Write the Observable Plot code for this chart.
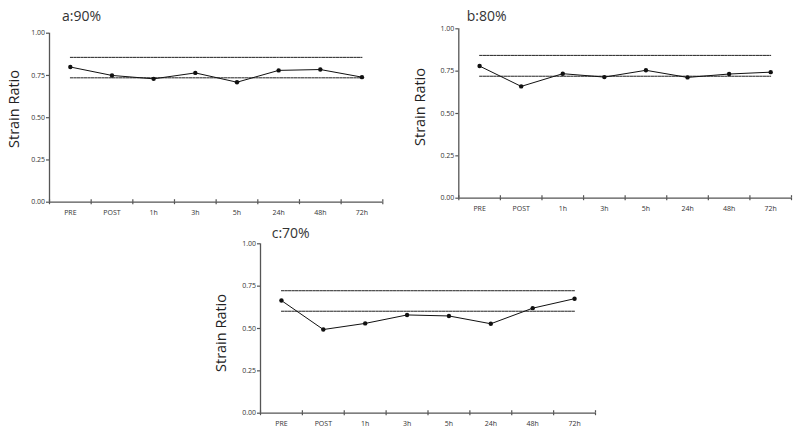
<!DOCTYPE html>
<html><head><meta charset="utf-8">
<script src="https://cdn.jsdelivr.net/npm/d3@7"></script>
<script src="https://cdn.jsdelivr.net/npm/@observablehq/plot@0.6"></script>
<style>
body{margin:0;background:#fff;}
#c{position:relative;width:800px;height:432px;font-family:"Open Sans",sans-serif;overflow:hidden;}
.panel{position:absolute;}
.title{position:absolute;font-size:14px;line-height:14px;color:#333;white-space:nowrap;}
.ylab{position:absolute;font-size:14.5px;line-height:15px;color:#222;white-space:nowrap;transform:translate(-50%,-50%) rotate(-90deg);}
</style></head><body><div id="c"></div><script>
const categories = ["PRE","POST","1h","3h","5h","24h","48h","72h"];
const titles = ["a:90%","b:80%","c:70%"];
const yLabel = "Strain Ratio";
const valuesA = [0.80,0.75,0.73,0.765,0.71,0.78,0.785,0.74];
const valuesB = [0.78,0.66,0.735,0.715,0.755,0.713,0.733,0.744];
const valuesC = [0.665,0.494,0.53,0.58,0.574,0.528,0.62,0.676];
const upperLimits = [0.857,0.843,0.723];
const lowerLimits = [0.736,0.72,0.602];
const yTicks = [0,0.25,0.5,0.75,1];

const layouts = [
  {left:0, top:0, w:400, h:215, mL:49, mT:32.7, mB:13.3, mR:17.7, lab:[13.3,108.5], tit:[62,9.3]},
  {left:400, top:0, w:400, h:215, mL:58.3, mT:28.3, mB:17.3, mR:9, lab:[419.3,106.7], tit:[466.7,8.8]},
  {left:200, top:215, w:400, h:217, mL:60, mT:28.3, mB:19.3, mR:5, lab:[220,333], tit:[271.7,226]}
];
const series = [valuesA, valuesB, valuesC];
const n = categories.length;
const xDomain = [-0.5, n - 0.5];
const boundaries = d3.range(n + 1).map(i => i - 0.5);
const container = document.getElementById("c");

series.forEach((values, k) => {
  const L = layouts[k];
  const data = categories.map((c, i) => ({i, c, v: values[i], up: upperLimits[k], lo: lowerLimits[k]}));
  const axisColor = "#555";
  const svg = Plot.plot({
    width: L.w, height: L.h,
    marginLeft: L.mL, marginTop: L.mT, marginBottom: L.mB, marginRight: L.mR,
    style: {fontFamily: "'Open Sans', sans-serif", fontSize: "7px", color: "#333", background: "transparent", overflow: "visible"},
    x: {type: "linear", domain: xDomain},
    y: {domain: [0, 1]},
    marks: [
      Plot.ruleY([0], {stroke: axisColor, strokeWidth: 1.3}),
      Plot.ruleX([xDomain[0]], {y1: 0, y2: 1, stroke: axisColor, strokeWidth: 1.3}),
      Plot.axisY({ticks: yTicks, tickFormat: d3.format(".2f"), tickSize: 3, tickPadding: 1.5, label: null, stroke: axisColor, strokeWidth: 1.2}),
      Plot.axisX({ticks: boundaries, tickFormat: () => "", tickSize: 2.5, label: null, stroke: axisColor, strokeWidth: 1.2}),
      Plot.axisX({ticks: boundaries, tickFormat: () => "", tickSize: -2.5, label: null, stroke: axisColor, strokeWidth: 1.2}),
      Plot.axisX({ticks: d3.range(n), tickFormat: i => categories[i], tickSize: 0, tickPadding: 8, label: null}),
      Plot.lineY(data, {x: "i", y: "up", stroke: "#222", strokeWidth: 1, strokeDasharray: "2.5,1"}),
      Plot.lineY(data, {x: "i", y: "lo", stroke: "#222", strokeWidth: 1, strokeDasharray: "2.5,1"}),
      Plot.lineY(data, {x: "i", y: "v", stroke: "#111", strokeWidth: 1}),
      Plot.dot(data, {x: "i", y: "v", r: 2.2, fill: "#111", stroke: "none"})
    ]
  });
  svg.classList.add("panel");
  svg.style.left = L.left + "px";
  svg.style.top = L.top + "px";
  container.appendChild(svg);

  const t = document.createElement("div");
  t.className = "title";
  t.textContent = titles[k];
  t.style.left = L.tit[0] + "px";
  t.style.top = L.tit[1] + "px";
  container.appendChild(t);

  const y = document.createElement("div");
  y.className = "ylab";
  y.textContent = yLabel;
  y.style.left = L.lab[0] + "px";
  y.style.top = L.lab[1] + "px";
  container.appendChild(y);
});
</script></body></html>
